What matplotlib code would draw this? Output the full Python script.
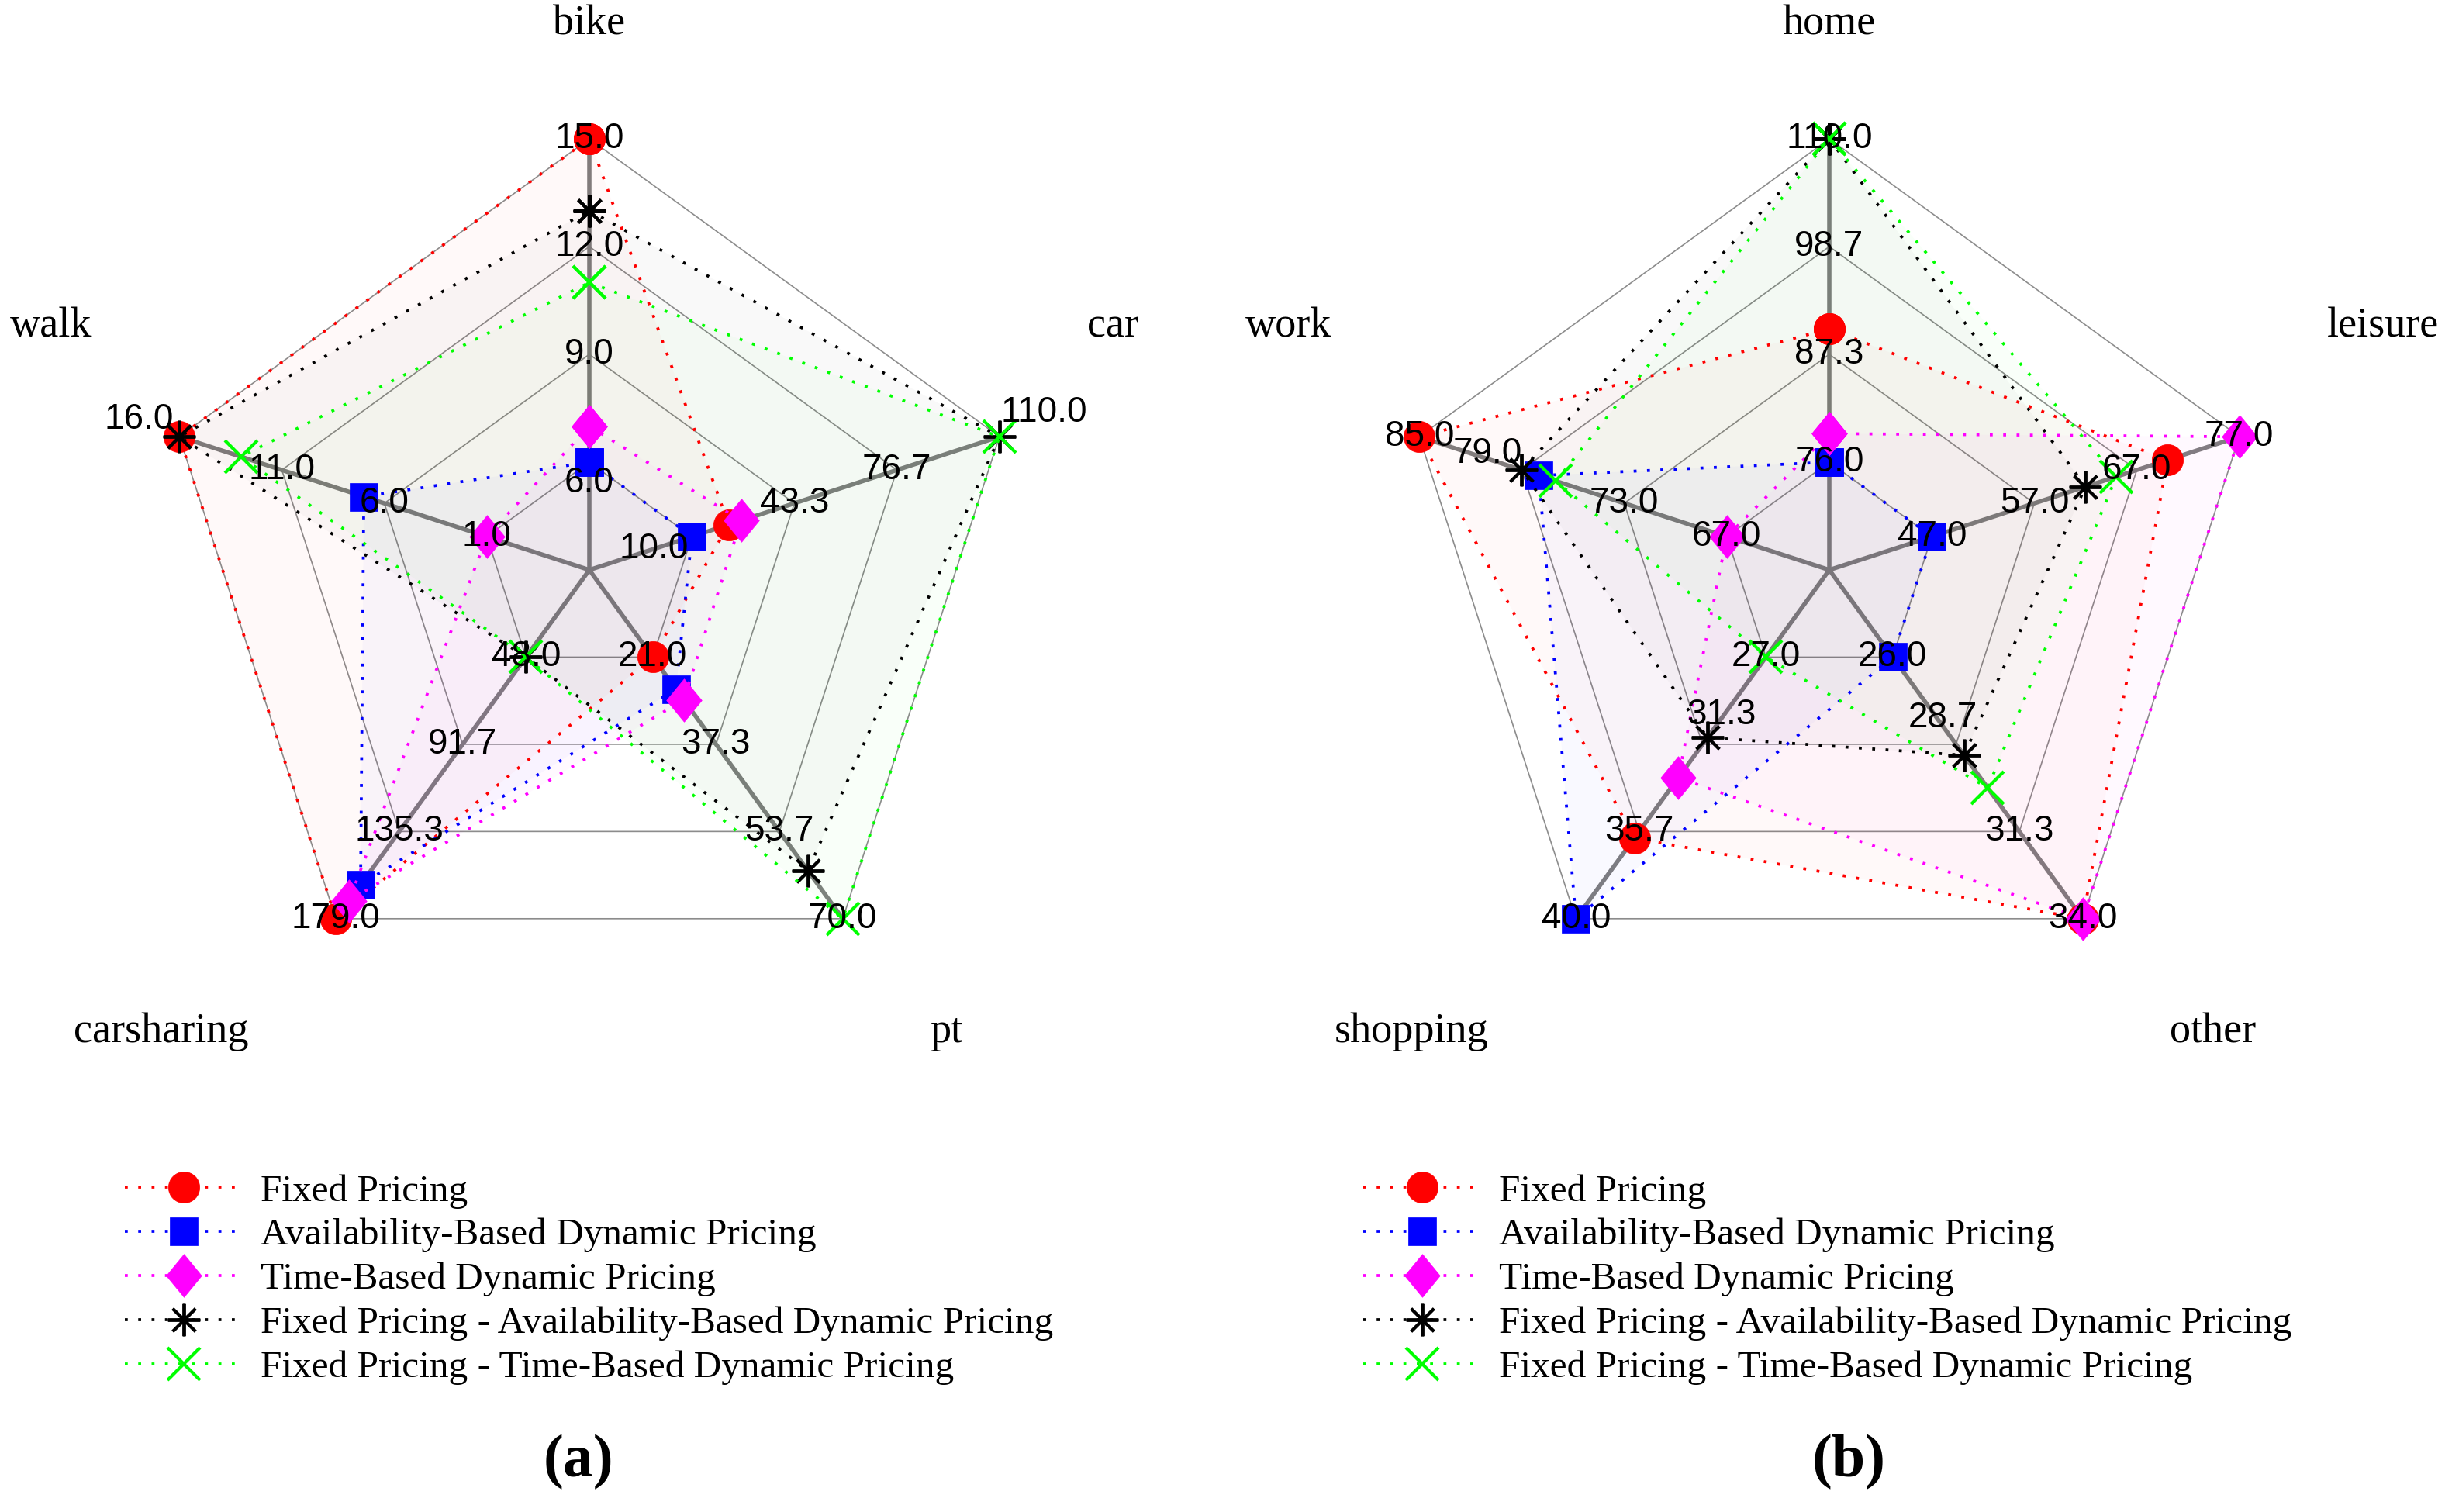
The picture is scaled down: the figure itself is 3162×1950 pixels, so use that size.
import numpy as np
import matplotlib.pyplot as plt

# categories (clockwise from the top)
cats_a = ['bike', 'car', 'pt', 'carsharing', 'walk']
cats_b = ['home', 'leisure', 'other', 'shopping', 'work']

series_names = ['Fixed Pricing',
                'Availability-Based Dynamic Pricing',
                'Time-Based Dynamic Pricing',
                'Fixed Pricing - Availability-Based Dynamic Pricing',
                'Fixed Pricing - Time-Based Dynamic Pricing']

# (a) transport mode
a_fixed = [15, 22, 21, 179, 16]
a_avail = [6, 10, 27, 162, 7]
a_time = [7, 26, 29, 170, 1]
a_fixed_avail = [13, 110, 61, 48, 16]
a_fixed_time = [11, 110, 70, 48, 13]

# (b) trip purpose
b_fixed = [90, 70, 34, 36, 85]
b_avail = [76, 47, 26, 40, 78]
b_time = [79, 77, 34, 33, 67]
b_fixed_avail = [110, 62, 29, 31, 79]
b_fixed_time = [110, 65, 30, 27, 77]

FIG_W, FIG_H, DPI = 3162, 1950, 100
R = 556  # outer ring radius in pixels

colors = ['#ff0000', '#0000ff', '#ff00ff', '#000000', '#00ff00']
diamond = [(0, 1), (0.82, 0), (0, -1), (-0.82, 0), (0, 1)]
marker_styles = [dict(marker='o', ms=29, mew=0.5),
                 dict(marker='s', ms=26, mew=0.5),
                 dict(marker=diamond, ms=40, mew=0.5),
                 dict(marker=(8, 2, 0), ms=30, mew=2.8),
                 dict(marker='x', ms=30, mew=3)]

# category label anchors (in units of the outer radius)
label_pos = [(0, 1.265, 'center'), (1.155, 0.565, 'left'), (0.79, -1.072, 'left'),
             (-0.79, -1.072, 'right'), (-1.155, 0.565, 'right')]

# small shifts of some ring labels, (axis, ring) -> (dx, dy)
nudges_a = {(0, 0): (0, -0.049), (1, 0): (-0.088, -0.029),
            (4, 3): (-0.094, 0.04), (1, 3): (0.103, 0.056)}
nudges_b = {(4, 2): (-0.079, 0.038), (3, 1): (0.043, 0.068), (2, 1): (-0.031, 0.061)}

fig = plt.figure(figsize=(FIG_W / DPI, FIG_H / DPI), dpi=DPI)


def add_radar_axes(cx, cy):
    xr, yb, yt = 1.45, 1.3, 1.35
    ax = fig.add_axes([(cx - xr * R) / FIG_W, (FIG_H - cy - yb * R) / FIG_H,
                       2 * xr * R / FIG_W, (yb + yt) * R / FIG_H])
    ax.set_xlim(-xr, xr)
    ax.set_ylim(-yb, yt)
    ax.axis('off')
    return ax


def draw_radar(ax, cats, data, nudges):
    n = len(cats)
    ang = np.deg2rad(90 - 360 / n * np.arange(n))
    ux, uy = np.cos(ang), np.sin(ang)
    vals = np.array(data, dtype=float)
    lo, hi = vals.min(axis=0), vals.max(axis=0)
    rings = np.linspace(0.25, 1, 4)

    # web
    for f in rings:
        ax.plot(np.append(ux, ux[0]) * f, np.append(uy, uy[0]) * f,
                color='#8c8c8c', lw=1.2, zorder=1)
    for k in range(n):
        ax.plot([0, ux[k]], [0, uy[k]], color='#808080', lw=4, zorder=1.5)

    # series
    for i, row in enumerate(vals):
        f = 0.25 + 0.75 * (row - lo) / (hi - lo)
        x, y = f * ux, f * uy
        ax.fill(x, y, color=colors[i], alpha=0.022, lw=0, zorder=2)
        ax.plot(np.append(x, x[0]), np.append(y, y[0]), ls=(0, (1, 3.6)), lw=2.7,
                color=colors[i], label=series_names[i], zorder=3 + i,
                **marker_styles[i])

    # ring values
    for k in range(n):
        ticks = np.linspace(lo[k], hi[k], 4)
        for j, (f, t) in enumerate(zip(rings, ticks)):
            dx, dy = nudges.get((k, j), (0, 0))
            ax.text(f * ux[k] + dx, f * uy[k] + dy, f'{t:.1f}', ha='center',
                    va='center', fontsize=33, family='Liberation Sans', zorder=20)

    for c, (lx, ly, ha) in zip(cats, label_pos):
        ax.text(lx, ly, c, ha=ha, va='center', fontsize=39, family='Liberation Serif')


ax_a = add_radar_axes(760, 735)
draw_radar(ax_a, cats_a, [a_fixed, a_avail, a_time, a_fixed_avail, a_fixed_time], nudges_a)
ax_b = add_radar_axes(2359, 735)
draw_radar(ax_b, cats_b, [b_fixed, b_avail, b_time, b_fixed_avail, b_fixed_time], nudges_b)

for ax, x0 in [(ax_a, 161), (ax_b, 1758)]:
    ax.legend(loc='upper left', bbox_to_anchor=(x0 / FIG_W, 1 - 1514 / FIG_H),
              bbox_transform=fig.transFigure, frameon=False,
              prop=dict(family='Liberation Serif', size=35.5),
              handlelength=3.1, handletextpad=0.45, labelspacing=0.25,
              borderpad=0, borderaxespad=0)

fig.text(746 / FIG_W, 1 - 1886 / FIG_H, '(a)', ha='center', va='center',
         fontsize=56, fontweight='bold', family='Liberation Serif')
fig.text(2384 / FIG_W, 1 - 1886 / FIG_H, '(b)', ha='center', va='center',
         fontsize=56, fontweight='bold', family='Liberation Serif')

fig.savefig('out.png', dpi=DPI)
